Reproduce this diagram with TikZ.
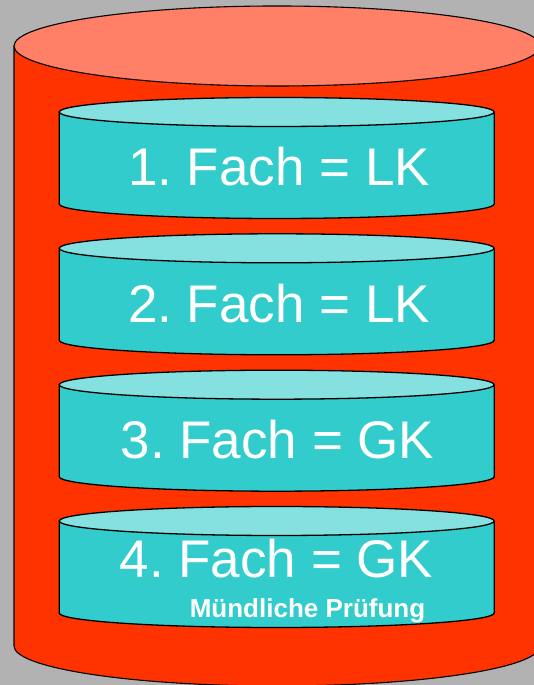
\documentclass[tikz,border=0pt]{standalone}
\usepackage{fontspec}
\setmainfont{Liberation Sans}
\frenchspacing
\definecolor{bggray}{RGB}{178,178,178}
\definecolor{bigred}{RGB}{255,51,0}
\definecolor{bigtop}{RGB}{255,128,102}
\definecolor{tealbody}{RGB}{51,204,204}
\definecolor{tealtop}{RGB}{133,224,224}
\tikzset{
  outline/.style={draw=black,line width=1.3pt,line join=round},
  bigtext/.style={text=white,anchor=base,inner sep=0pt,font=\fontsize{53}{60}\selectfont},
  smalltext/.style={text=white,anchor=base,inner sep=0pt,font=\bfseries\fontsize{26}{30}\selectfont},
}
\newcommand{\smallcyl}[2]{% #1 = top centre y, #2 = bottom centre y
  \fill[tealbody] (59.2,#1) -- (59.2,#2) arc[start angle=180,end angle=360,x radius=217.5,y radius=14.5] -- (494.2,#1) -- cycle;
  \draw[outline] (59.2,#1) -- (59.2,#2) arc[start angle=180,end angle=360,x radius=217.5,y radius=14.5] -- (494.2,#1);
  \filldraw[outline,fill=tealtop] (276.7,#1) ellipse[x radius=217.5,y radius=14.5];
}
\begin{document}
\begin{tikzpicture}[x=1pt,y=1pt]
\useasboundingbox (0,0) rectangle (534,685);
\clip (0,0) rectangle (534,685);
\fill[bggray] (0,0) rectangle (534,685);
% big cylinder
\fill[bigred] (14,639) -- (14,39) arc[start angle=180,end angle=360,x radius=263,y radius=40] -- (540,639) -- cycle;
\draw[outline,line width=1.1pt] (14,639) -- (14,39) arc[start angle=180,end angle=360,x radius=263,y radius=40] -- (540,639);
\filldraw[outline,line width=1.1pt,fill=bigtop] (277,639) ellipse[x radius=263,y radius=40];
% small cylinders
\smallcyl{573}{481}
\smallcyl{436.7}{344.7}
\smallcyl{300.3}{208.3}
\smallcyl{164}{72}
\node[bigtext] (f1) at (279,499) {1. Fach = LK};
\node[bigtext] (f2) at (279,362.7) {2. Fach = LK};
\node[bigtext] (f3) at (277.5,226.3) {3. Fach = GK};
\node[bigtext] (f4) at (276.5,107) {4. Fach = GK};
\node[smalltext] (m4) at (307.5,67) {Mündliche Prüfung};
\end{tikzpicture}
\end{document}
